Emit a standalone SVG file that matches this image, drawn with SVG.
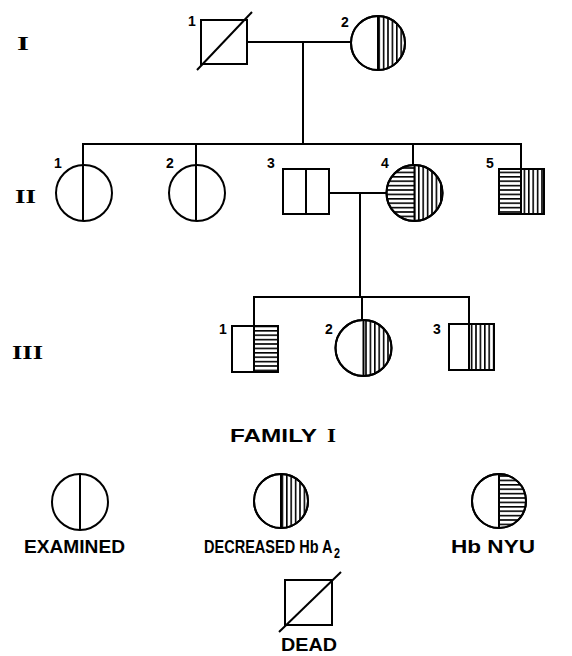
<svg xmlns="http://www.w3.org/2000/svg" width="572" height="656" viewBox="0 0 572 656">
<defs>
<pattern id="vh" patternUnits="userSpaceOnUse" width="4.4" height="10"><rect x="0" y="0" width="1.6" height="10" fill="#000"/></pattern>
<pattern id="hh" patternUnits="userSpaceOnUse" width="10" height="4.4"><rect x="0" y="0" width="10" height="1.6" fill="#000"/></pattern>
</defs>
<style>
.s{fill:none;stroke:#000;stroke-width:2}
.w{fill:#fff;stroke:#000;stroke-width:2}
.v{fill:url(#vh);stroke:none}
.h{fill:url(#hh);stroke:none}
.l{stroke:#000;stroke-width:2;fill:none}
.n{font-family:"Liberation Sans",Arial,sans-serif;font-size:14px;font-weight:bold;fill:#000}
.r{font-family:"Liberation Serif","Times New Roman",serif;font-size:19px;font-weight:bold;fill:#000}
.t{font-family:"Liberation Sans",Arial,sans-serif;font-size:19px;font-weight:bold;fill:#000}
</style>
<rect width="572" height="656" fill="#fff"/>

<g id="gen-labels">
<text class="r" x="17" y="50" textLength="12" lengthAdjust="spacingAndGlyphs">I</text>
<text class="r" x="15" y="203" textLength="21" lengthAdjust="spacingAndGlyphs">II</text>
<text class="r" x="12" y="359" textLength="31" lengthAdjust="spacingAndGlyphs">III</text>
</g>

<g id="connectors">
<line class="l" x1="247" y1="42" x2="351" y2="42"/>
<line class="l" x1="303" y1="42" x2="303" y2="144"/>
<line class="l" x1="82" y1="144" x2="521" y2="144"/>
<line class="l" x1="83" y1="143" x2="83" y2="166"/>
<line class="l" x1="196" y1="143" x2="196" y2="166"/>
<line class="l" x1="413" y1="143" x2="413" y2="166"/>
<line class="l" x1="521" y1="143" x2="521" y2="169"/>
<line class="l" x1="329" y1="193" x2="387" y2="193"/>
<line class="l" x1="360" y1="193" x2="360" y2="297"/>
<line class="l" x1="253" y1="297" x2="469" y2="297"/>
<line class="l" x1="254" y1="296" x2="254" y2="326"/>
<line class="l" x1="362" y1="296" x2="362" y2="320"/>
<line class="l" x1="469" y1="296" x2="469" y2="324"/>
</g>

<g id="I-1">
<text class="n" x="188" y="26">1</text>
<rect class="w" x="201" y="20" width="46" height="44"/>
<line class="l" x1="197" y1="70" x2="252" y2="12"/>
</g>

<g id="I-2">
<text class="n" x="341" y="27">2</text>
<circle class="w" cx="378" cy="43" r="27"/>
<path class="v" d="M378,16 A27,27 0 0 1 378,70 Z"/>
<circle class="s" cx="378" cy="43" r="27"/>
<line class="l" x1="378" y1="16" x2="378" y2="70"/>
</g>

<g id="II-1">
<text class="n" x="54" y="168">1</text>
<circle class="w" cx="84" cy="193" r="28"/>
<line class="l" x1="83" y1="165" x2="83" y2="221"/>
</g>

<g id="II-2">
<text class="n" x="166" y="168">2</text>
<circle class="w" cx="197" cy="193" r="28"/>
<line class="l" x1="196" y1="165" x2="196" y2="221"/>
</g>

<g id="II-3">
<text class="n" x="267" y="168">3</text>
<rect class="w" x="283" y="169" width="46" height="45"/>
<line class="l" x1="306" y1="169" x2="306" y2="214"/>
</g>

<g id="II-4">
<text class="n" x="381" y="168">4</text>
<circle class="w" cx="414.5" cy="193" r="28"/>
<path class="h" d="M414.5,165 A28,28 0 0 0 414.5,221 Z"/>
<path class="v" d="M414.5,165 A28,28 0 0 1 414.5,221 Z"/>
<circle class="s" cx="414.5" cy="193" r="28"/>
<line class="l" x1="414.5" y1="165" x2="414.5" y2="221"/>
</g>

<g id="II-5">
<text class="n" x="486" y="168">5</text>
<rect class="w" x="499" y="169" width="45" height="45"/>
<rect class="h" x="499" y="169" width="22" height="45"/>
<rect class="v" x="521" y="169" width="23" height="45"/>
<rect class="s" x="499" y="169" width="45" height="45"/>
<line class="l" x1="521" y1="169" x2="521" y2="214"/>
</g>

<g id="III-1">
<text class="n" x="219" y="334">1</text>
<rect class="w" x="232" y="326" width="46" height="46"/>
<rect class="h" x="254" y="326" width="24" height="46"/>
<rect class="s" x="232" y="326" width="46" height="46"/>
<line class="l" x1="254" y1="326" x2="254" y2="372"/>
</g>

<g id="III-2">
<text class="n" x="325" y="334">2</text>
<circle class="w" cx="363.5" cy="348" r="28"/>
<path class="v" d="M363.5,320 A28,28 0 0 1 363.5,376 Z"/>
<circle class="s" cx="363.5" cy="348" r="28"/>
<line class="l" x1="363.5" y1="320" x2="363.5" y2="376"/>
</g>

<g id="III-3">
<text class="n" x="433" y="334">3</text>
<rect class="w" x="449" y="324" width="45" height="46"/>
<rect class="v" x="469" y="324" width="25" height="46"/>
<rect class="s" x="449" y="324" width="45" height="46"/>
<line class="l" x1="469" y1="324" x2="469" y2="370"/>
</g>

<g id="title">
<text class="t" x="230" y="442" textLength="87" lengthAdjust="spacingAndGlyphs">FAMILY</text>
<text class="r" x="327" y="442" textLength="9" lengthAdjust="spacingAndGlyphs">I</text>
</g>

<g id="legend-examined">
<circle class="w" cx="80" cy="502" r="28"/>
<line class="l" x1="80" y1="474" x2="80" y2="530"/>
<text class="t" x="24" y="553" textLength="101" lengthAdjust="spacingAndGlyphs">EXAMINED</text>
</g>

<g id="legend-decreased">
<circle class="w" cx="281" cy="501" r="27"/>
<path class="v" d="M281,474 A27,27 0 0 1 281,528 Z"/>
<circle class="s" cx="281" cy="501" r="27"/>
<line class="l" x1="281" y1="474" x2="281" y2="528"/>
<text class="t" x="204" y="553" textLength="136" lengthAdjust="spacingAndGlyphs">DECREASED Hb A<tspan font-size="14" dx="2" dy="5">2</tspan></text>
</g>

<g id="legend-nyu">
<circle class="w" cx="499" cy="501" r="27"/>
<path class="h" d="M499,474 A27,27 0 0 1 499,528 Z"/>
<circle class="s" cx="499" cy="501" r="27"/>
<line class="l" x1="499" y1="474" x2="499" y2="528"/>
<text class="t" x="451" y="553" textLength="84" lengthAdjust="spacingAndGlyphs">Hb NYU</text>
</g>

<g id="legend-dead">
<rect class="w" x="285" y="580" width="47" height="45"/>
<line class="l" x1="279" y1="632" x2="341" y2="572"/>
<text class="t" x="281" y="651" textLength="56" lengthAdjust="spacingAndGlyphs">DEAD</text>
</g>
</svg>
